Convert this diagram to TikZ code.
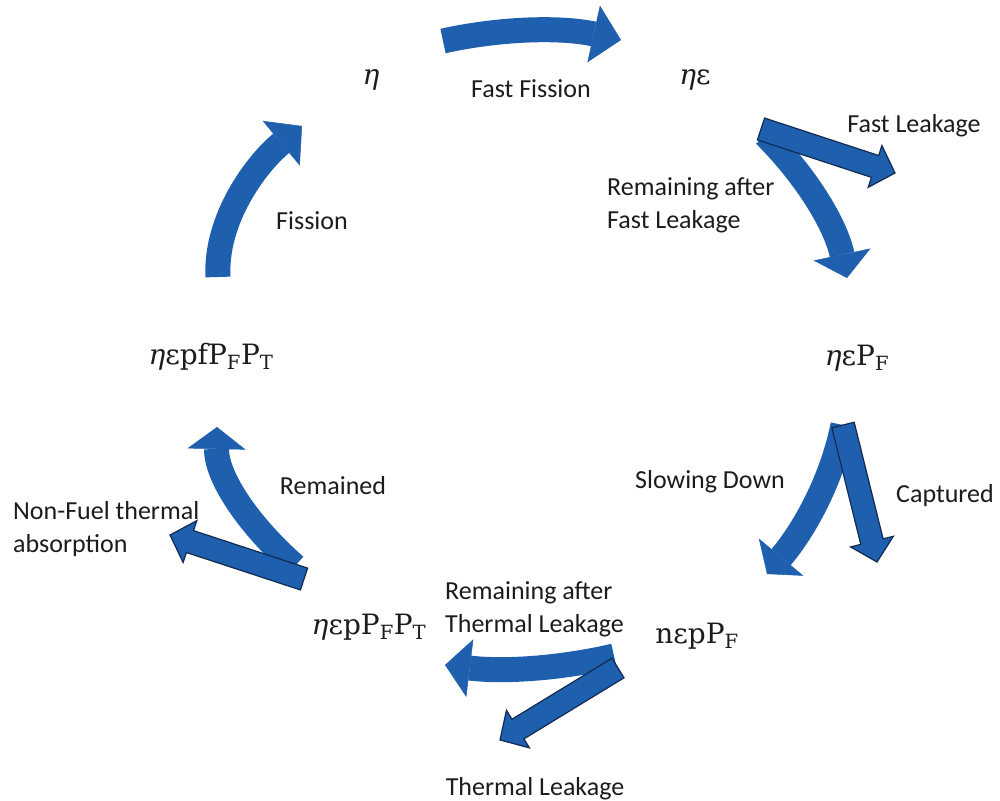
\documentclass[tikz,border=0pt]{standalone}
\usepackage{fontspec}
\setmainfont{Carlito}
\newfontfamily\qtyfont{DejaVu Serif}
\usetikzlibrary{arrows.meta,calc}

\definecolor{flowblue}{RGB}{31,96,174}
\definecolor{flowedge}{RGB}{18,42,82}
\definecolor{labelgray}{RGB}{28,28,28}

\tikzset{
  flow/.style={draw=flowblue, line width=25pt,
    -{Triangle[length=#1pt,width=58pt,line width=0.5pt,fill=flowblue]}},
  flow/.default=26,
  sideflow/.style={fill=flowblue, draw=flowedge, line width=1.2pt, line join=miter},
  lab/.style={text=labelgray, font=\fontsize{26}{33}\selectfont, inner sep=0pt, anchor=base},
  qty/.style={text=labelgray, font=\qtyfont\fontsize{28}{32}\selectfont, inner sep=0pt, anchor=base}
}

% straight block arrow from #1 to #2
\newcommand\sidearrow[2]{%
  \coordinate (#1-hb) at ($(#2)!21pt!(#1)$);
  \filldraw[sideflow] ($(#1)!11.5pt!90:(#2)$) -- ($(#1-hb)!11.5pt!90:(#2)$)
    -- ($(#1-hb)!22pt!90:(#2)$) -- (#2) -- ($(#1-hb)!22pt!-90:(#2)$)
    -- ($(#1-hb)!11.5pt!-90:(#2)$) -- ($(#1)!11.5pt!-90:(#2)$) -- cycle;
}

\begin{document}
\begin{tikzpicture}[x=1pt,y=-1pt]
  \useasboundingbox (0,0) rectangle (1000,800);
  \fill[white] (0,0) rectangle (1000,800);

  \node[qty] (eta) at (371,84) {{\itshape η}};
  \node[qty] (etaeps) at (695,84) {{\itshape η}ε};
  \node[qty] (etaepsPF) at (857,365) {{\itshape η}εP\textsubscript{F}};
  \node[qty] (nepPF) at (697,643) {nεpP\textsubscript{F}};
  \node[qty] (etaepPFPT) at (369,634) {{\itshape η}εpP\textsubscript{F}P\textsubscript{T}};
  \node[qty] (etaepfPFPT) at (211,364) {{\itshape η}εpfP\textsubscript{F}P\textsubscript{T}};

  \node[lab] (fastfis) at (531,97) {Fast Fission};
  \node[lab] (fastleak) at (914,132) {Fast Leakage};
  \node[lab, anchor=base west, align=left] (fastrem) at (607,228) {Remaining after\\Fast Leakage};
  \node[lab] (slow) at (710,488) {Slowing Down};
  \node[lab] (capt) at (945,502) {Captured};
  \node[lab, anchor=base west, align=left] (thermrem) at (445,632) {Remaining after\\Thermal Leakage};
  \node[lab] (thermleak) at (535,795) {Thermal Leakage};
  \node[lab] (remain) at (333,494) {Remained};
  \node[lab, anchor=base west, align=left] (nonfuel) at (13,552) {Non-Fuel thermal\\absorption};
  \node[lab] (fis) at (312,229) {Fission};

  \coordinate (fastfis-s) at (443,41);   \coordinate (fastfis-e) at (621,40);
  \coordinate (fastrem-s) at (765,135);  \coordinate (fastrem-e) at (847,278);
  \coordinate (fastleak-s) at (761,129); \coordinate (fastleak-e) at (895,173);
  \coordinate (slow-s) at (843,425);     \coordinate (slow-e) at (767,574);
  \coordinate (capt-s) at (843,425);     \coordinate (capt-e) at (877,562);
  \coordinate (thermrem-s) at (614,656); \coordinate (thermrem-e) at (445,665);
  \coordinate (thermleak-s) at (618,668);\coordinate (thermleak-e) at (500,740);
  \coordinate (remain-s) at (295,566);   \coordinate (remain-e) at (217,427);
  \coordinate (nonfuel-s) at (304,579);  \coordinate (nonfuel-e) at (170,535);
  \coordinate (fis-s) at (218,277);      \coordinate (fis-e) at (302,126);

  \draw[flow=28] (fastfis-s) .. controls (502,28) and (562,27) .. (fastfis-e);
  \draw[flow=24] (fastrem-s) .. controls (808,178) and (836,226) .. (fastrem-e);
  \sidearrow{fastleak-s}{fastleak-e}
  \draw[flow=22] (slow-s) .. controls (833,475) and (808,525) .. (slow-e);
  \sidearrow{capt-s}{capt-e}
  \draw[flow=25] (thermrem-s) .. controls (558,669) and (502,672) .. (thermrem-e);
  \sidearrow{thermleak-s}{thermleak-e}
  \draw[flow=22] (remain-s) .. controls (242,519) and (216,473) .. (remain-e);
  \sidearrow{nonfuel-s}{nonfuel-e}
  \draw[flow=27] (fis-s) .. controls (215,220) and (255,165) .. (fis-e);
\end{tikzpicture}
\end{document}
